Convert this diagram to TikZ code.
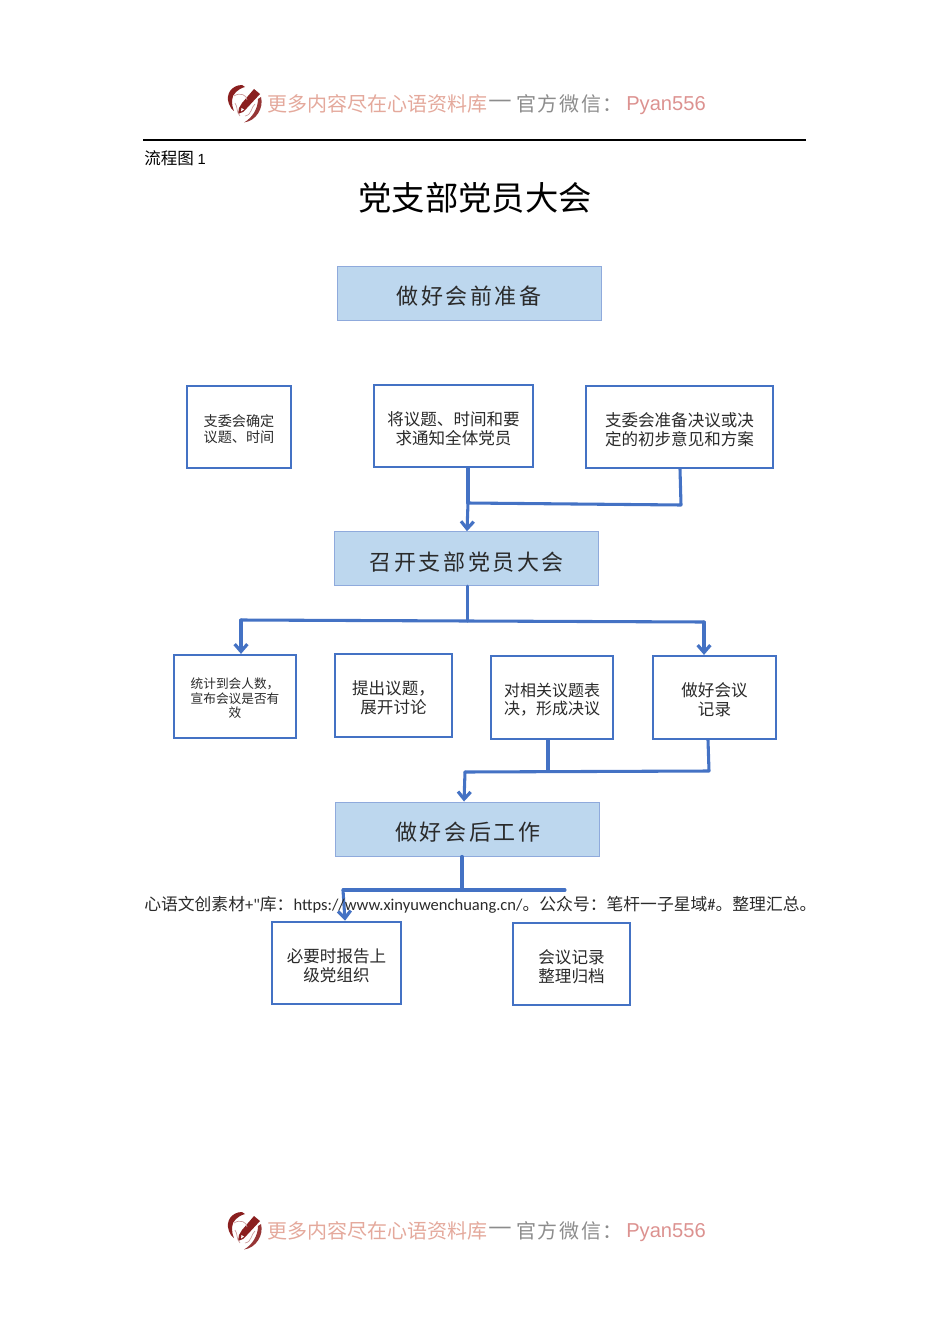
\documentclass[tikz,border=0pt]{standalone}
\usepackage{fontspec}
\setmainfont{Noto Sans CJK SC}
\newfontfamily\cjkwide[LetterSpace=12]{Noto Sans CJK SC}
\newfontfamily\brandwide[LetterSpace=8]{Noto Sans CJK SC}
\newfontfamily\lat{Carlito}
\newfontfamily\arial{Liberation Sans}
\usetikzlibrary{arrows.meta}
\definecolor{linkblue}{HTML}{4472C4}
\definecolor{headfill}{HTML}{BDD7EE}
\definecolor{headedge}{HTML}{8FAADC}
\definecolor{inkgray}{HTML}{2A2A2A}
\definecolor{brandpink}{HTML}{E4A99C}
\definecolor{brandrose}{HTML}{DC9290}
\definecolor{brandgray}{HTML}{8C8C8C}
\definecolor{branddark}{HTML}{8A1F1F}
\newcommand\topgap{\rule{0pt}{1.12em}}
\tikzset{
  x=0.75pt,y=-0.75pt,
  headbox/.style={draw=headedge,line width=0.7pt,fill=headfill,inner sep=0pt,text=inkgray,
    font=\cjkwide\fontsize{16.5}{20}\selectfont},
  plainbox/.style={draw=linkblue,line width=1.9pt,fill=white,inner sep=0pt,align=center,text=inkgray,
    font=\fontsize{12.4}{14.2}\selectfont},
  smallbox/.style={plainbox,font=\fontsize{10.6}{12}\selectfont},
  tinybox/.style={plainbox,font=\fontsize{9.5}{10.9}\selectfont},
  link/.style={draw=linkblue,line width=2.3pt,line cap=round,line join=round},
  arrowlink/.style={link,-{Straight Barb[length=5.5pt,width=9.5pt,line width=2.4pt]}},
  brand/.pic={
    % left crescent
    \fill[branddark] (242,85) .. controls (232,85) and (225,94) .. (229,104)
      .. controls (230,107) and (232,110) .. (234,111)
      .. controls (231,104) and (231,96) .. (236,92)
      .. controls (238,90) and (241,88) .. (245,87) -- cycle;
    % right crescent
    \fill[branddark!90] (261,97) .. controls (264,108) and (256,121) .. (244,122.5)
      .. controls (252,118) and (258,109) .. (258,99) -- cycle;
    % pen
    \fill[branddark] (254,89) -- (260,94) -- (247,108) -- (243,112) -- (238,114) -- (239,108) -- (242,103) -- cycle;
    \fill[white] (241.5,108) -- (244,109.5) -- (241,111.5) -- cycle;
    % swirls
    \draw[branddark!45,line width=0.5pt] (234,96) .. controls (240,92) and (247,95) .. (247,100);
    \draw[branddark!45,line width=0.5pt] (235,103) .. controls (238,107) and (236,112) .. (240,116);
    \draw[branddark!45,line width=0.5pt] (245,116) .. controls (252,115) and (251,107) .. (255,104);
    \node[text=brandpink,inner sep=0pt,font=\fontsize{15}{18}\selectfont] (-a) at (377,104) {更多内容尽在心语资料库};
    \node[text=brandgray,inner sep=0pt,font=\fontsize{20}{20}\selectfont] (-b) at (500.5,104) {—};
    \node[text=brandgray,inner sep=0pt,anchor=west,font=\brandwide\fontsize{15}{18}\selectfont] (-c) at (516,104) {官方微信：};
    \node[text=brandrose,inner sep=0pt,font=\arial\fontsize{15.1}{20}\selectfont] (-d) at (666,106) {Pyan556};
  }
}
\begin{document}
\begin{tikzpicture}
\useasboundingbox (0,0) rectangle (950,1344);
\pic (hdr) at (0,0) {brand};
\pic (ftr) at (0,1127) {brand};
\draw[black,line width=1.2pt] (143,140) -- (806,140);
\node[anchor=west,inner sep=0pt,font=\fontsize{12.4}{14}\selectfont] (cap) at (144,158.5) {流程图 {\arial\fontsize{11}{14}\selectfont 1}};
\node[inner sep=0pt,font=\fontsize{25}{30}\selectfont] (title) at (475,198) {党支部党员大会};

\node[headbox,minimum width=198pt,minimum height=40.5pt] (t1) at (469,293) {\topgap 做好会前准备};
\node[smallbox,minimum width=78pt,minimum height=61.5pt] (b1) at (239,427) {\topgap 支委会确定\\议题、时间};
\node[plainbox,minimum width=119pt,minimum height=61.5pt] (b2) at (453.5,426) {\topgap 将议题、时间和要\\求通知全体党员};
\node[plainbox,minimum width=140pt,minimum height=61.5pt] (b3) at (679.5,427) {\topgap 支委会准备决议或决\\定的初步意见和方案};
\node[headbox,minimum width=198pt,minimum height=40.5pt] (t2) at (466.7,558.7) {\topgap 召开支部党员大会};
\node[tinybox,minimum width=91.5pt,minimum height=62pt] (c1) at (235,696.5) {\topgap 统计到会人数，\\宣布会议是否有\\效};
\node[plainbox,minimum width=87.5pt,minimum height=62pt] (c2) at (393.5,695.5) {\topgap 提出议题，\\展开讨论};
\node[plainbox,font=\fontsize{12}{13.6}\selectfont,minimum width=91.5pt,minimum height=62pt] (c3) at (552,697.5) {\topgap 对相关议题表\\决，形成决议};
\node[plainbox,minimum width=92pt,minimum height=62pt] (c4) at (714.5,697.5) {\topgap 做好会议\\记录};
\node[headbox,minimum width=198pt,minimum height=40.5pt] (t3) at (467.7,829) {\topgap 做好会后工作};
\node[plainbox,minimum width=96.5pt,minimum height=61.5pt] (d1) at (336.5,963) {\topgap 必要时报告上\\级党组织};
\node[plainbox,minimum width=87.5pt,minimum height=61.5pt] (d2) at (571.5,964) {\topgap 会议记录\\整理归档};

% junctions
\coordinate (j1a) at (468,503);
\coordinate (j1r) at (681,505);
\coordinate (j2m) at (467.5,621);
\coordinate (j2l) at (241,620);
\coordinate (j2r) at (704,622);
\coordinate (j3m) at (548,771);
\coordinate (j3r) at (709,771);
\coordinate (j3l) at (465,772);
\coordinate (j4m) at (462,890);
\coordinate (j4l) at (343,890);
\coordinate (j4r) at (565,890);
\coordinate (a1) at (467,503);
\coordinate (a3) at (464,772);
\coordinate (a4) at (345,890);
\coordinate (s3) at (680,503);
\coordinate (s4) at (708,771);

\draw[link] (b2.south -| j1a) -- (j1a);
\draw[arrowlink] (j1a) -- (a1 |- t2.north);
\draw[link] (b3.south -| s3) -- (j1r) -- (j1a);
\draw[link] (t2.south -| j2m) -- (j2m);
\draw[link] (j2l) -- (j2m) -- (j2r);
\draw[arrowlink] (j2l) -- (j2l |- c1.north);
\draw[arrowlink] (j2r) -- (j2r |- c4.north);
\draw[link] (c3.south -| j3m) -- (j3m);
\draw[link] (c4.south -| s4) -- (j3r) -- (j3l);
\draw[arrowlink] (j3l) -- (a3 |- t3.north);
\draw[link] (t3.south -| j4m) -- (j4m);
\draw[link] (j4l) -- (j4r);
\draw[arrowlink] (j4l) -- (a4 |- d1.north);

\node[anchor=west,inner sep=0pt,text=inkgray,font=\fontsize{12.6}{14}\selectfont] (note) at (144,905) {心语文创素材{\lat\fontsize{12.4}{14}\selectfont +"}库：{\lat\fontsize{12.4}{14}\selectfont https://www.xinyuwenchuang.cn/}。公众号：笔杆一子星域{\lat\fontsize{12.4}{14}\selectfont \#}。整理汇总。};
\end{tikzpicture}
\end{document}
